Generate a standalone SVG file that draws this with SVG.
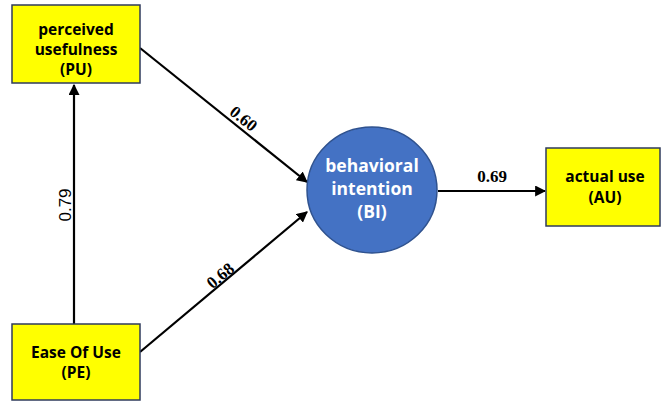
<svg xmlns="http://www.w3.org/2000/svg" width="662" height="402" viewBox="0 0 662 402">
<style>
.box{fill:#ffff00;stroke:#2f3b5c;stroke-width:1.5}
.bt{font-family:"Open Sans",Lato,sans-serif;font-weight:bold;font-size:15.5px;fill:#000;text-anchor:middle}
.ct{font-family:"Open Sans",Lato,sans-serif;font-weight:bold;font-size:17.5px;fill:#fff;text-anchor:middle}
.ln{stroke:#000;stroke-width:2.2;fill:none;marker-end:url(#ah)}
.sl{font-family:"Liberation Serif",serif;font-weight:bold;font-size:17px;fill:#000;text-anchor:middle}
.nl{font-family:"Liberation Sans",sans-serif;font-size:17px;fill:#000;text-anchor:middle}
</style>
<defs>
<marker id="ah" viewBox="0 0 10 10" refX="9" refY="5" markerWidth="5" markerHeight="5" orient="auto" markerUnits="strokeWidth">
<path d="M0,0 L10,5 L0,10 z" fill="#000"/>
</marker>
</defs>
<g id="connectors">
<line class="ln" x1="74" y1="324" x2="74" y2="85"/>
<line class="ln" x1="140" y1="48" x2="307" y2="182"/>
<line class="ln" x1="140" y1="352" x2="307" y2="212"/>
<line class="ln" x1="438" y1="191" x2="545" y2="191"/>
<text class="nl" transform="translate(71,205) rotate(-90)">0.79</text>
<text class="sl" transform="translate(240,123) rotate(39)">0.60</text>
<text class="sl" transform="translate(224,280) rotate(-40)">0.68</text>
<text class="sl" x="492" y="182">0.69</text>
</g>
<g id="PU">
<rect class="box" x="12" y="5" width="128" height="78"/>
<text class="bt" x="76" y="35">perceived</text>
<text class="bt" x="76" y="55">usefulness</text>
<text class="bt" x="76" y="75">(PU)</text>
</g>
<g id="PE">
<rect class="box" x="12" y="324" width="128" height="76"/>
<text class="bt" x="76" y="358">Ease Of Use</text>
<text class="bt" x="76" y="378">(PE)</text>
</g>
<g id="BI">
<ellipse cx="372" cy="190" rx="65" ry="63" fill="#4472c4" stroke="#2f528f" stroke-width="1.5"/>
<text class="ct" x="372" y="172">behavioral</text>
<text class="ct" x="372" y="195">intention</text>
<text class="ct" x="372" y="218">(BI)</text>
</g>
<g id="AU">
<rect class="box" x="546" y="148" width="114" height="78"/>
<text class="bt" x="605" y="182">actual use</text>
<text class="bt" x="605" y="203">(AU)</text>
</g>
</svg>
